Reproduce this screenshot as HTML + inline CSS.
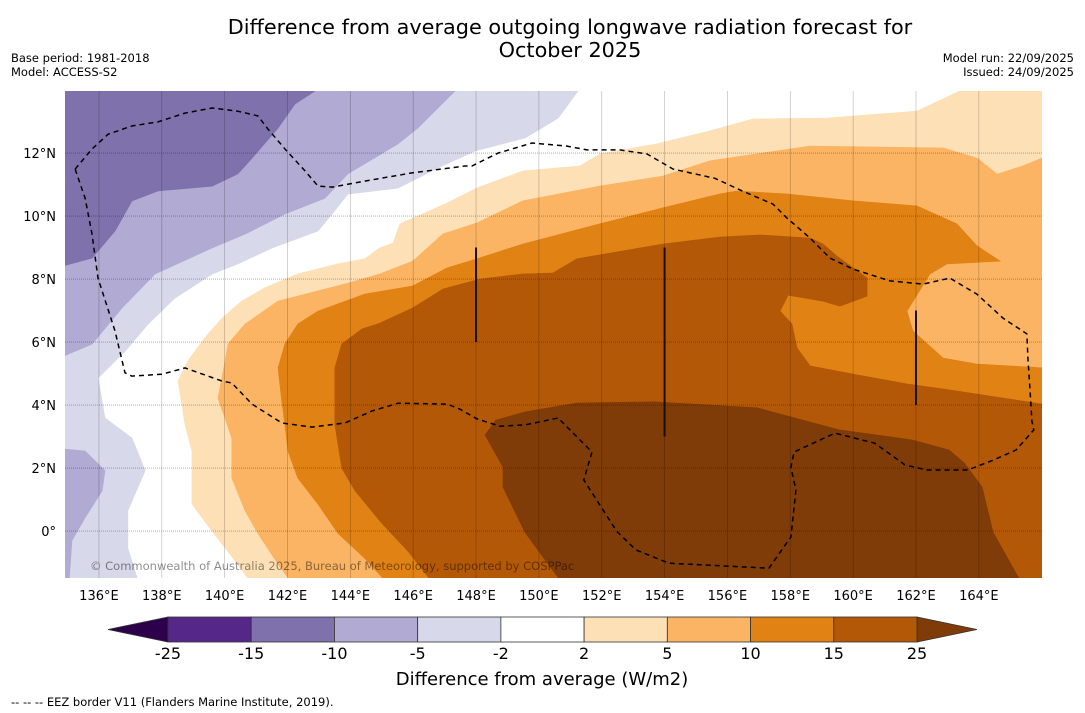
<!DOCTYPE html>
<html><head><meta charset="utf-8"><style>
body{margin:0;background:#fff;}
svg{display:block;font-family:"DejaVu Sans","Liberation Sans",sans-serif;}
</style></head><body>
<svg id="chart" width="1085" height="713" viewBox="0 0 1085 713" xmlns="http://www.w3.org/2000/svg">
<rect width="1085" height="713" fill="#fff"/>
<text x="570" y="34" font-size="20.8" text-anchor="middle">Difference from average outgoing longwave radiation forecast for</text>
<text x="570" y="57" font-size="20.8" text-anchor="middle">October 2025</text>
<text x="11" y="62" font-size="11.5">Base period: 1981-2018</text>
<text x="11" y="76" font-size="11.5">Model: ACCESS-S2</text>
<text x="1074" y="62" font-size="11.5" text-anchor="end">Model run: 22/09/2025</text>
<text x="1074" y="76" font-size="11.5" text-anchor="end">Issued: 24/09/2025</text>
<defs><clipPath id="mapclip"><rect x="65" y="91" width="977" height="487"/></clipPath></defs>
<g id="map" clip-path="url(#mapclip)"></g>
<g id="axes"></g>
<g id="cbar"></g>
<text x="542" y="685" font-size="18" text-anchor="middle">Difference from average (W/m2)</text>
<text x="11" y="706" font-size="11.5">--  --  -- EEZ border V11 (Flanders Marine Institute, 2019).</text>
</svg>
<script>
// axis domains
const lonDomain=[134.92,166.01];
const latDomain=[-1.49,13.97];
const xTicks=[136,138,140,142,144,146,148,150,152,154,156,158,160,162,164];
const yTicks=[0,2,4,6,8,10,12];
const cbarLabels=["-25","-15","-10","-5","-2","2","5","10","15","25"];
const cbarColors=["#542788","#7f71ab","#b1aad2","#d8d8eb","#ffffff","#fee0b6","#fbb463","#e08214","#b35806"];
const cbarLow="#2d004b";
const cbarHigh="#7f3b08";
// contour regions [lon,lat]
const negLe10=[[142.87,14.3],[142.87,13.97],[142.24,13.56],[141.70,12.80],[140.87,11.84],[140.42,11.34],[139.60,10.95],[137.88,10.80],[137.05,10.48],[136.51,9.53],[135.78,8.67],[134.5,8.32],[134.5,14.3]];
const negLe5Top=[[147.33,14.3],[147.33,13.97],[146.15,12.80],[145.51,12.29],[143.92,11.34],[143.19,10.57],[141.92,10.07],[140.65,9.43],[139.60,8.99],[137.78,8.16],[136.73,7.08],[135.78,5.94],[134.5,5.40],[134.5,14.3]];
const negLe5Bottom=[[134.5,2.64],[135.56,2.54],[136.19,1.92],[136.10,1.28],[135.56,0.43],[135.14,-0.30],[135.02,-2],[134.5,-2]];
const negLe2=[[151.24,14.3],[151.24,13.97],[150.61,13.11],[149.56,12.48],[147.97,12.07],[146.79,11.53],[145.52,10.89],[143.92,10.70],[143.42,10.07],[142.97,9.53],[141.51,8.99],[140.42,8.48],[139.60,8.16],[138.42,7.40],[137.56,6.57],[136.83,5.71],[135.97,4.86],[136.19,3.59],[137.05,2.95],[137.47,1.92],[136.92,0.65],[136.92,-0.54],[137.37,-2],[134.5,-2],[134.5,14.3]];
const posGe2=[[163.40,14.3],[163.40,13.97],[162.03,13.33],[159.17,13.11],[156.81,13.08],[155.54,12.73],[153.76,12.29],[151.94,11.97],[151.31,11.59],[149.49,11.43],[148.03,10.89],[147.08,10.41],[145.58,9.75],[145.36,9.14],[144.94,8.99],[144.46,8.64],[143.61,8.48],[142.33,8.16],[141.28,7.72],[140.55,7.30],[139.92,6.76],[139.37,6.13],[138.83,5.40],[138.52,4.76],[138.64,4.03],[138.74,3.40],[138.96,2.54],[138.96,0.86],[139.60,0],[140.42,-1.05],[141.1,-2],[166.5,-2],[166.5,14.3]];
const posGe5=[[166.5,11.84],[166.01,11.84],[165.40,11.59],[164.58,11.33],[163.94,11.84],[162.86,12.16],[158.63,12.22],[155.44,11.75],[153.95,11.27],[151.94,10.95],[149.49,10.48],[148.03,9.78],[146.95,9.43],[145.99,8.57],[144.94,8.16],[143.92,7.87],[142.56,7.52],[141.70,7.30],[140.65,6.57],[140.11,5.94],[139.92,4.86],[139.79,4.22],[140.01,3.59],[140.23,2.95],[140.23,1.68],[140.65,0.65],[141.06,-0.07],[141.70,-1.05],[142.4,-2],[166.5,-2]];
const posGe10=[[145.5,-2],[144.46,-0.86],[143.61,-0.07],[142.97,0.86],[142.33,1.68],[142.02,2.54],[141.92,3.40],[141.82,4.13],[141.70,5.18],[141.92,5.94],[142.33,6.57],[142.97,6.98],[144.46,7.52],[145.99,7.78],[147.08,8.35],[148.03,8.64],[149.49,9.11],[151.94,9.75],[153.95,10.26],[155.76,10.70],[156.30,10.79],[157.89,10.70],[159.99,10.48],[162.03,10.32],[163.30,9.75],[163.94,9.05],[164.67,8.57],[162.98,8.48],[162.44,8.16],[161.71,6.98],[161.90,6.35],[162.86,5.49],[163.94,5.30],[166.01,5.18],[166.5,5.18],[166.5,-2]];
const posGe15=[[146.9,-2],[145.83,-0.63],[145.01,0.24],[144.15,1.28],[143.73,2.00],[143.51,3.40],[143.51,5.18],[143.73,5.94],[144.37,6.41],[144.94,6.60],[145.99,7.08],[146.95,7.68],[148.13,8.00],[149.49,8.16],[150.45,8.19],[151.21,8.64],[153.95,9.11],[155.76,9.33],[157.03,9.40],[158.63,9.30],[159.04,9.11],[159.48,8.73],[160.44,8.03],[160.44,7.46],[159.58,7.14],[159.04,7.30],[157.93,7.49],[157.67,6.98],[158.05,6.57],[158.21,5.81],[158.63,5.24],[159.99,4.98],[161.71,4.67],[162.86,4.51],[166.01,4.03],[166.5,4.03],[166.5,-2]];
const posGe25=[[151.0,-2],[149.56,-0.04],[148.86,1.40],[148.86,2.03],[148.29,3.05],[148.63,3.52],[149.56,3.78],[151.21,4.06],[153.66,4.10],[156.94,3.91],[159.55,3.21],[161.87,2.89],[163.05,2.57],[163.53,2.16],[164.10,1.40],[164.45,-0.04],[165.28,-1.52],[165.4,-2]];
const eezBorder=[[135.24,11.49],[135.78,12.13],[136.29,12.60],[137.05,12.86],[137.88,12.99],[138.74,13.27],[139.60,13.43],[140.42,13.33],[141.06,13.18],[141.38,12.76],[141.92,12.13],[142.56,11.43],[142.97,10.95],[143.42,10.92],[144.46,11.11],[145.96,11.37],[147.65,11.59],[147.87,11.59],[148.70,12.00],[149.78,12.32],[150.89,12.22],[151.53,12.10],[152.58,12.10],[153.44,11.97],[154.27,11.49],[155.6,11.2],[156.49,10.79],[157.45,10.38],[157.89,9.94],[158.63,9.30],[159.26,8.67],[159.99,8.32],[161.17,7.94],[162.22,7.84],[163.08,8.03],[163.94,7.52],[164.77,6.76],[165.53,6.26],[165.56,5.49],[165.63,4.44],[165.69,3.49],[165.75,3.21],[165.18,2.57],[164.45,2.25],[163.65,1.94],[162.35,1.94],[161.65,2.10],[160.69,2.79],[159.42,3.11],[158.12,2.51],[158.02,2.03],[158.18,1.30],[158.02,-0.19],[157.32,-1.18],[154.14,-1.02],[153.09,-0.60],[152.48,-0.01],[151.43,1.62],[151.69,2.51],[150.61,3.59],[149.56,3.37],[148.76,3.33],[148.03,3.56],[147.49,3.87],[147.08,4.03],[145.52,4.06],[144.69,3.81],[143.83,3.43],[142.78,3.30],[141.82,3.43],[140.87,4.03],[140.23,4.70],[139.92,4.76],[138.74,5.18],[138.01,4.98],[137.05,4.92],[136.83,5.02],[136.51,6.35],[135.97,8.03],[135.78,9.43],[135.56,10.57],[135.24,11.49]];
const meridianLons=[148,154,162];
const meridianFrom=[9,9,7];
const meridianTo=[6,3,4];

const X0=65,X1=1042,Y0=91,Y1=578;
function xs(lon){return X0+(lon-lonDomain[0])/(lonDomain[1]-lonDomain[0])*(X1-X0);}
function ys(lat){return Y1-(lat-latDomain[0])/(latDomain[1]-latDomain[0])*(Y1-Y0);}
const NS="http://www.w3.org/2000/svg";
function mk(tag,parent){const e=document.createElementNS(NS,tag);parent.appendChild(e);return e;}
function pts(arr){return arr.map(p=>xs(p[0]).toFixed(1)+","+ys(p[1]).toFixed(1)).join(" ");}
const map=document.getElementById("map");
const layers=[
 ["region-le-minus2",negLe2,"#d8d8eb"],
 ["region-le-minus5-top",negLe5Top,"#b1aad2"],
 ["region-le-minus5-bottom",negLe5Bottom,"#b1aad2"],
 ["region-le-minus10",negLe10,"#7f71ab"],
 ["region-ge-2",posGe2,"#fee0b6"],
 ["region-ge-5",posGe5,"#fbb463"],
 ["region-ge-10",posGe10,"#e08214"],
 ["region-ge-15",posGe15,"#b35806"],
 ["region-ge-25",posGe25,"#7f3b08"]];
layers.forEach(L=>{
 const p=mk("polygon",map);
 
 
 p.setAttribute("points",pts(L[1]));p.setAttribute("fill",L[2]);
 p.setAttribute("stroke",L[2]);p.setAttribute("stroke-width","0.8");
});
// gridlines
xTicks.forEach(t=>{const l=mk("line",map);
 
 
 l.setAttribute("x1",xs(t));l.setAttribute("x2",xs(t));l.setAttribute("y1",Y0);l.setAttribute("y2",Y1);
 l.setAttribute("stroke","#000");l.setAttribute("stroke-opacity","0.25");l.setAttribute("stroke-width","0.7");});
yTicks.forEach(t=>{const l=mk("line",map);
 
 
 l.setAttribute("y1",ys(t));l.setAttribute("y2",ys(t));l.setAttribute("x1",X0);l.setAttribute("x2",X1);
 l.setAttribute("stroke","#000");l.setAttribute("stroke-opacity","0.35");l.setAttribute("stroke-width","0.8");l.setAttribute("stroke-dasharray","1,1");});
// meridian segments
meridianLons.forEach((m,i)=>{const l=mk("line",map);
 
 
 l.setAttribute("x1",xs(m));l.setAttribute("x2",xs(m));l.setAttribute("y1",ys(meridianFrom[i]));l.setAttribute("y2",ys(meridianTo[i]));
 l.setAttribute("stroke","#1a1008");l.setAttribute("stroke-width","2");});
// EEZ
const ez=mk("polyline",map);


ez.setAttribute("points",pts(eezBorder));ez.setAttribute("fill","none");ez.setAttribute("stroke","#000");
ez.setAttribute("stroke-width","1.5");ez.setAttribute("stroke-dasharray","5,4");
const cp=mk("text",map);


cp.setAttribute("x",90);cp.setAttribute("y",570);cp.setAttribute("font-size","11.5");cp.setAttribute("fill","#000");cp.setAttribute("fill-opacity","0.45");
cp.textContent="© Commonwealth of Australia 2025, Bureau of Meteorology, supported by COSPPac";
// axis labels
const ax=document.getElementById("axes");
xTicks.forEach(t=>{const e=mk("text",ax);
 
 
 e.setAttribute("x",xs(t));e.setAttribute("y",600);e.setAttribute("font-size","13");e.setAttribute("text-anchor","middle");e.textContent=t+"°E";});
yTicks.forEach(t=>{const e=mk("text",ax);
 
 
 e.setAttribute("x",56);e.setAttribute("y",ys(t)+5);e.setAttribute("font-size","13");e.setAttribute("text-anchor","end");e.textContent=t===0?"0°":t+"°N";});
// colorbar
const cb=document.getElementById("cbar");
const CX0=168,CX1=917,CY0=617,CY1=642,n=cbarColors.length,w=(CX1-CX0)/n;
const lt=mk("polygon",cb);


lt.setAttribute("points",`${CX0},${CY0} 108,${(CY0+CY1)/2} ${CX0},${CY1}`);lt.setAttribute("fill",cbarLow);lt.setAttribute("stroke","#333");lt.setAttribute("stroke-width","0.8");
const rt=mk("polygon",cb);


rt.setAttribute("points",`${CX1},${CY0} 977,${(CY0+CY1)/2} ${CX1},${CY1}`);rt.setAttribute("fill",cbarHigh);rt.setAttribute("stroke","#333");rt.setAttribute("stroke-width","0.8");
cbarColors.forEach((c,i)=>{const r=mk("rect",cb);
 
 
 r.setAttribute("x",CX0+i*w);r.setAttribute("y",CY0);r.setAttribute("width",w);r.setAttribute("height",CY1-CY0);
 r.setAttribute("fill",c);r.setAttribute("stroke","#333");r.setAttribute("stroke-width","0.8");});
cbarLabels.forEach((s,i)=>{const e=mk("text",cb);
 
 
 e.setAttribute("x",CX0+i*w);e.setAttribute("y",659);e.setAttribute("font-size","16");e.setAttribute("text-anchor","middle");e.textContent=s;});
</script>
</body></html>
